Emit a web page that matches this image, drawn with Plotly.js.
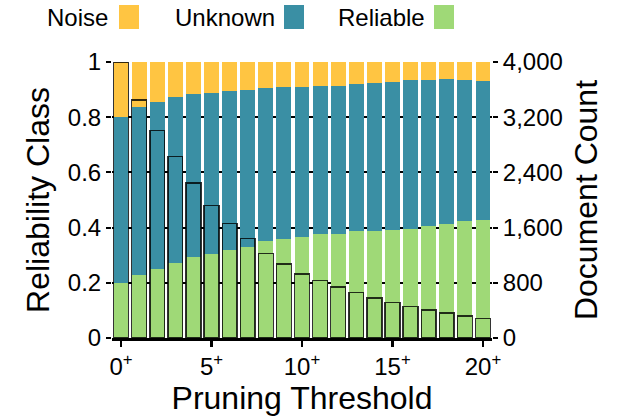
<!DOCTYPE html>
<html>
<head>
<meta charset="utf-8">
<script src="https://cdn.plot.ly/plotly-3.0.1.min.js"></script>
<style>html,body{margin:0;padding:0;background:#fff;}#chart{width:619px;height:419px;}</style>
</head>
<body>
<div id="chart"></div>
<script>
var thresholds = [0,1,2,3,4,5,6,7,8,9,10,11,12,13,14,15,16,17,18,19,20];
var reliable = [0.200,0.229,0.251,0.273,0.294,0.305,0.320,0.331,0.352,0.359,0.366,0.377,0.377,0.388,0.388,0.392,0.396,0.407,0.414,0.425,0.429];
var unknownTop = [0.800,0.838,0.856,0.874,0.885,0.889,0.896,0.900,0.907,0.911,0.911,0.914,0.914,0.921,0.925,0.928,0.935,0.935,0.939,0.935,0.932];
var unknown = unknownTop.map(function(t,i){return +(t - reliable[i]).toFixed(3);});
var noise = unknownTop.map(function(t){return +(1 - t).toFixed(3);});
var docCount = [4000,3449,3009,2628,2246,1922,1661,1443,1226,1072,928,835,739,661,580,512,454,406,362,319,280];
var tickVals = [0,5,10,15,20];
var tickLabels = ['0<sup>+</sup>','5<sup>+</sup>','10<sup>+</sup>','15<sup>+</sup>','20<sup>+</sup>'];
var seriesNames = ['Noise','Unknown','Reliable'];
var colors = {Noise:'#FFC542', Unknown:'#3A8FA4', Reliable:'#9FD977'};

var font = 'Liberation Sans, Arial, Helvetica, sans-serif';

var traces = [
  {type:'bar', name:'Reliable', x:thresholds, y:reliable, marker:{color:colors.Reliable, line:{width:0}}, showlegend:false},
  {type:'bar', name:'Unknown', x:thresholds, y:unknown, marker:{color:colors.Unknown, line:{width:0}}, showlegend:false},
  {type:'bar', name:'Noise', x:thresholds, y:noise, marker:{color:colors.Noise, line:{width:0}}, showlegend:false},
  {type:'bar', name:'Document Count', x:thresholds, y:docCount, yaxis:'y2',
   marker:{color:'rgba(0,0,0,0)', line:{color:'rgba(0,0,0,0.8)', width:1.4}}, showlegend:false}
];

var annotations = [];
var shapes = [];
var legendPos = [
  {name:'Noise', textRight:110, sqL:119},
  {name:'Unknown', textRight:277, sqL:284},
  {name:'Reliable', textRight:427, sqL:434}
];
legendPos.forEach(function(p){
  annotations.push({xref:'paper', yref:'paper', x:(p.textRight-112)/380, y:(419-18-81)/276,
    xanchor:'right', yanchor:'middle', text:p.name, showarrow:false,
    font:{family:font, size:24, color:'#000'}});
  shapes.push({type:'rect', xref:'paper', yref:'paper',
    x0:(p.sqL-112)/380, x1:(p.sqL+20-112)/380, y0:(419-29-81)/276, y1:(419-5-81)/276,
    fillcolor:colors[p.name], line:{width:0}});
});

var layout = {
  width:619, height:419,
  margin:{l:112, r:127, t:62, b:81},
  paper_bgcolor:'#fff', plot_bgcolor:'#fff',
  barmode:'stack', bargap:0.18,
  font:{family:font, color:'#000', size:24},
  showlegend:false,
  xaxis:{range:[-0.5,20.5], tickvals:tickVals, ticktext:tickLabels, ticks:'outside', ticklen:6, tickwidth:2.5,
    tickcolor:'#000', showline:true, linecolor:'#000', linewidth:2.5, showgrid:false, zeroline:false,
    tickfont:{size:24}, title:{text:'Pruning Threshold', font:{size:32}, standoff:0}},
  yaxis:{range:[0,1], tickvals:[0,0.2,0.4,0.6,0.8,1], ticktext:['0','0.2','0.4','0.6','0.8','1'],
    ticks:'outside', ticklen:5, tickwidth:2, tickcolor:'#000', showgrid:true, gridcolor:'#000', gridwidth:2,
    zeroline:false, showline:false, tickfont:{size:24},
    title:{text:'Reliability Class', font:{size:32}, standoff:8}},
  yaxis2:{overlaying:'y', side:'right', range:[0,4000], tickvals:[0,800,1600,2400,3200,4000], tickformat:',',
    ticks:'outside', ticklen:5, tickwidth:2, tickcolor:'#000', showgrid:false, zeroline:false, showline:false,
    tickfont:{size:24}, title:{text:'Document Count', font:{size:32}, standoff:12}},
  annotations:annotations,
  shapes:shapes
};

Plotly.newPlot('chart', traces, layout, {staticPlot:true, displayModeBar:false});
</script>
</body>
</html>
